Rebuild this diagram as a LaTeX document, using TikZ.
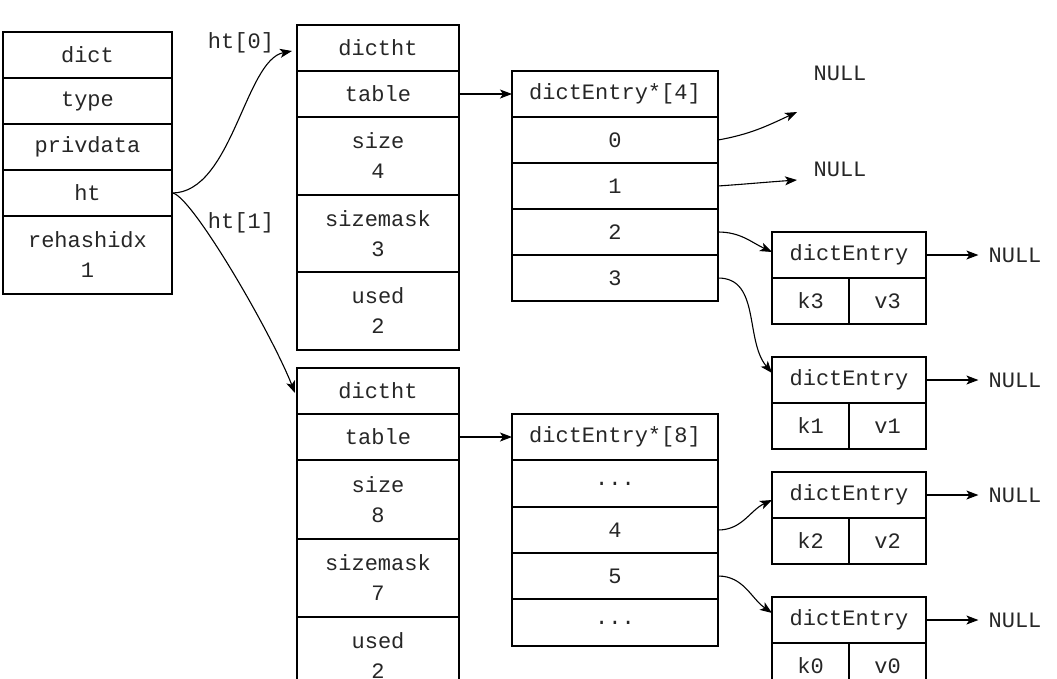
\documentclass[tikz,border=0pt]{standalone}
\usepackage{fontspec}
\newfontfamily\courfont{Liberation Mono}
\usetikzlibrary{arrows.meta}
\begin{document}
\begin{tikzpicture}[x=1pt,y=-1pt,
  cell/.style={draw, line width=1.7pt, rectangle, inner sep=0pt, outer sep=0pt, align=center,
    font=\courfont\fontsize{22}{30}\selectfont, text=black!85},
  lbl/.style={inner sep=0pt, font=\courfont\fontsize{22}{26}\selectfont, text=black!85},
  ptr/.style={line width=1.1pt, -{Stealth[length=12pt,width=9pt,inset=3pt]}},
]
\useasboundingbox (0,0) rectangle (1057,678);
\clip (0,0) rectangle (1057,678);

% dict
\node[cell, minimum width=169pt, minimum height=46pt] (dict) at (87.5,55) {dict};
\node[cell, minimum width=169pt, minimum height=46pt] (type) at (87.5,101) {type};
\node[cell, minimum width=169pt, minimum height=46pt] (priv) at (87.5,147) {privdata};
\node[cell, minimum width=169pt, minimum height=46pt] (ht) at (87.5,193) {ht};
\node[cell, minimum width=169pt, minimum height=78pt] (rehash) at (87.5,255) {rehashidx\\1};

% dictht 0
\node[cell, minimum width=162pt, minimum height=46pt] (h0) at (378,48) {dictht};
\node[cell, minimum width=162pt, minimum height=46pt] (h0table) at (378,94) {table};
\node[cell, minimum width=162pt, minimum height=78pt] (h0size) at (378,156) {size\\4};
\node[cell, minimum width=162pt, minimum height=77pt] (h0mask) at (378,233.5) {sizemask\\3};
\node[cell, minimum width=162pt, minimum height=78pt] (h0used) at (378,311) {used\\2};

% dictht 1
\node[cell, minimum width=162pt, minimum height=46pt] (h1) at (378,391) {dictht};
\node[cell, minimum width=162pt, minimum height=46pt] (h1table) at (378,437) {table};
\node[cell, minimum width=162pt, minimum height=79pt] (h1size) at (378,499.5) {size\\8};
\node[cell, minimum width=162pt, minimum height=78pt] (h1mask) at (378,578) {sizemask\\7};
\node[cell, minimum width=162pt, minimum height=78pt] (h1used) at (378,656) {used\\2};

% array 4
\node[cell, minimum width=206pt, minimum height=46pt] (a4) at (615,94) {dictEntry*[4]};
\node[cell, minimum width=206pt, minimum height=46pt] (a40) at (615,140) {0};
\node[cell, minimum width=206pt, minimum height=46pt] (a41) at (615,186) {1};
\node[cell, minimum width=206pt, minimum height=46pt] (a42) at (615,232) {2};
\node[cell, minimum width=206pt, minimum height=46pt] (a43) at (615,278) {3};

% array 8
\node[cell, minimum width=206pt, minimum height=46pt] (a8) at (615,437) {dictEntry*[8]};
\node[cell, minimum width=206pt, minimum height=47pt] (a8a) at (615,483.5) {...};
\node[cell, minimum width=206pt, minimum height=46pt] (a84) at (615,530) {4};
\node[cell, minimum width=206pt, minimum height=46pt] (a85) at (615,576) {5};
\node[cell, minimum width=206pt, minimum height=47pt] (a8b) at (615,622.5) {...};

% entries
\node[cell, minimum width=154pt, minimum height=46pt] (e1) at (849,255) {dictEntry};
\node[cell, minimum width=77pt, minimum height=46pt] (e1k) at (810.5,301) {k3};
\node[cell, minimum width=77pt, minimum height=46pt] (e1v) at (887.5,301) {v3};

\node[cell, minimum width=154pt, minimum height=46pt] (e2) at (849,380) {dictEntry};
\node[cell, minimum width=77pt, minimum height=46pt] (e2k) at (810.5,426) {k1};
\node[cell, minimum width=77pt, minimum height=46pt] (e2v) at (887.5,426) {v1};

\node[cell, minimum width=154pt, minimum height=46pt] (e3) at (849,495) {dictEntry};
\node[cell, minimum width=77pt, minimum height=46pt] (e3k) at (810.5,541) {k2};
\node[cell, minimum width=77pt, minimum height=46pt] (e3v) at (887.5,541) {v2};

\node[cell, minimum width=154pt, minimum height=46pt] (e4) at (849,620) {dictEntry};
\node[cell, minimum width=77pt, minimum height=46pt] (e4k) at (810.5,666) {k0};
\node[cell, minimum width=77pt, minimum height=46pt] (e4v) at (887.5,666) {v0};

% NULL labels
\node[lbl] (nt0) at (840,73) {NULL};
\node[lbl] (nt1) at (840,169) {NULL};
\node[lbl] (n1) at (1015,255) {NULL};
\node[lbl] (n2) at (1015,380) {NULL};
\node[lbl] (n3) at (1015,495) {NULL};
\node[lbl] (n4) at (1015,620) {NULL};
\coordinate (c0) at (797,112);
\coordinate (c1) at (797,180);

% ht labels
\node[lbl] (l0) at (241,43) {ht[0]};
\node[lbl] (l1) at (241,223) {ht[1]};

% arrows
\draw[ptr] (ht.east) .. controls (232,193) and (245,60) .. ([xshift=-5pt,yshift=-3pt]h0.west);
\draw[ptr] (ht.east) .. controls (190,193) and (270,330) .. ([xshift=-2pt,yshift=-2pt]h1.west);
\draw[ptr] (h0table) -- (a4);
\draw[ptr] (h1table) -- (a8);

\draw[ptr] (a40.east) to[out=10,in=205] (c0);
\draw[ptr] (a41.east) to[out=4,in=184] (c1);
\draw[ptr] (a42.east) to[out=0,in=155] ([yshift=3pt]e1.west);
\draw[ptr] (a43.east) to[out=0,in=130] ([yshift=7pt]e2.west);
\draw[ptr] (a84.east) to[out=0,in=205] ([yshift=-5pt]e3.west);
\draw[ptr] (a85.east) to[out=0,in=145] ([yshift=7pt]e4.west);

\draw[ptr, shorten >=10pt] (e1) -- (n1);
\draw[ptr, shorten >=10pt] (e2) -- (n2);
\draw[ptr, shorten >=10pt] (e3) -- (n3);
\draw[ptr, shorten >=10pt] (e4) -- (n4);
\end{tikzpicture}
\end{document}
